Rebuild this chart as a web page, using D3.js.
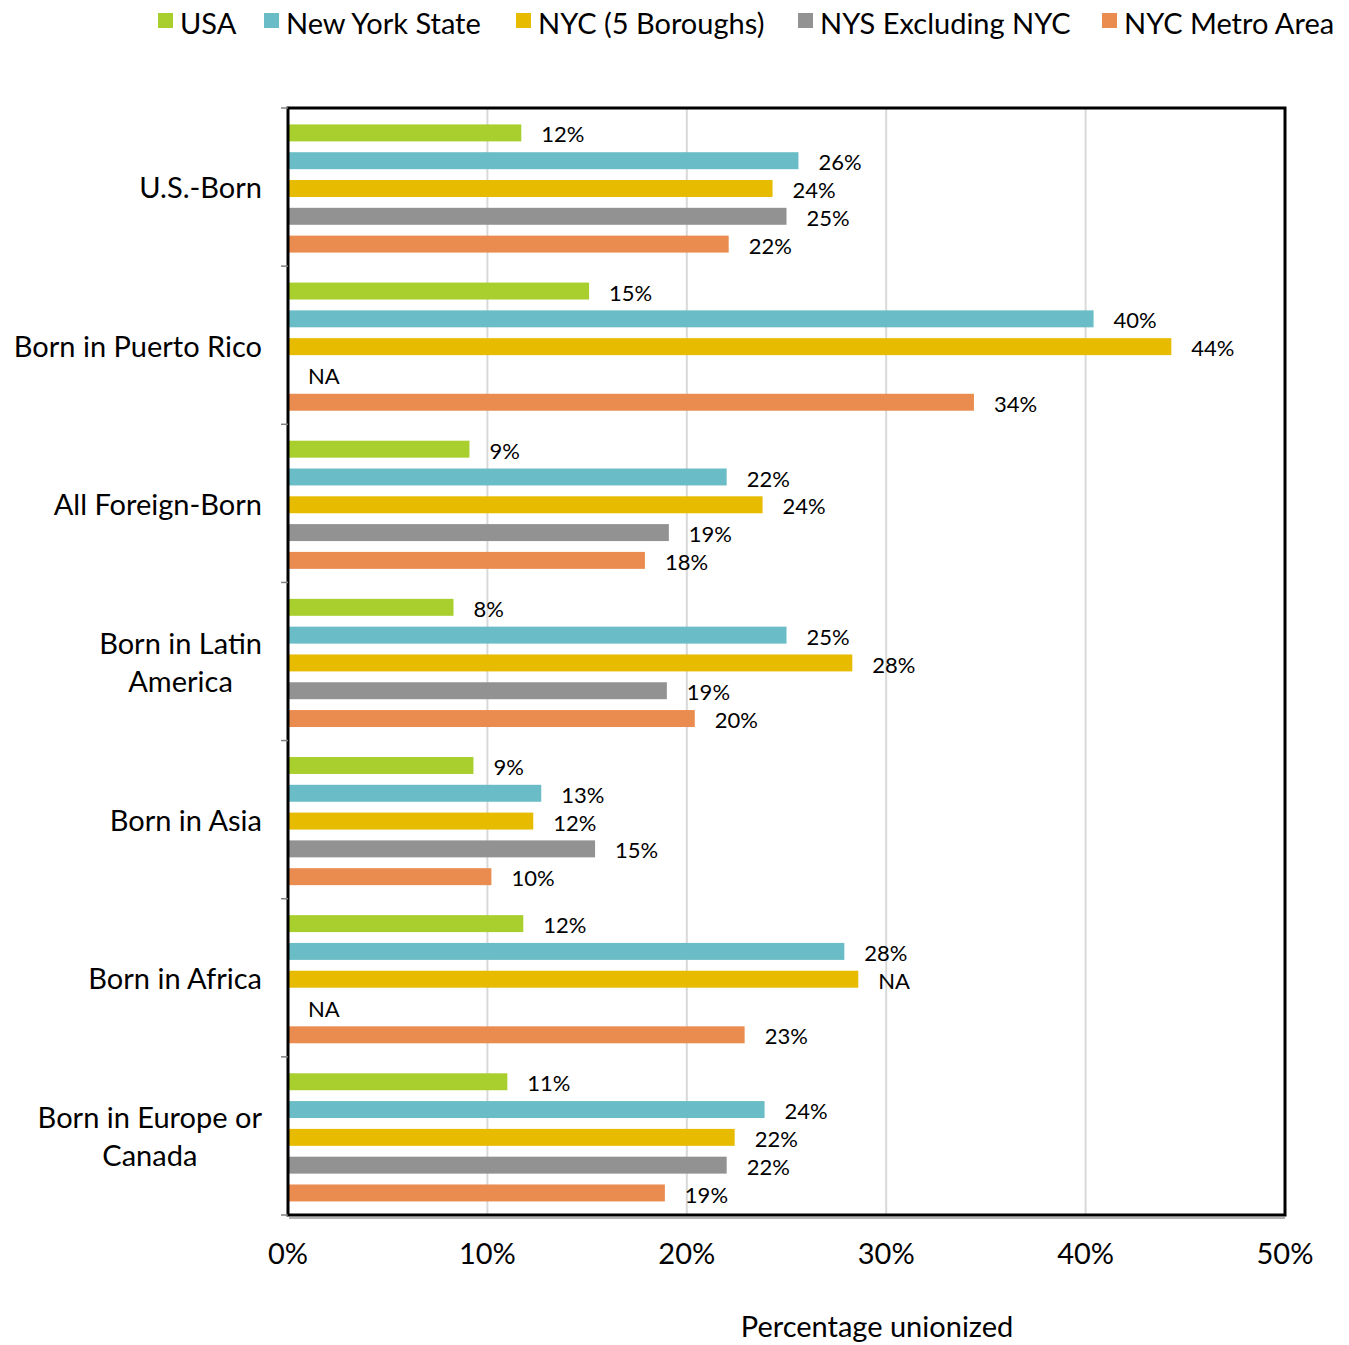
<!DOCTYPE html>
<html>
<head>
<meta charset="utf-8">
<script src="https://cdn.jsdelivr.net/npm/d3@7"></script>
<style>
  html, body { margin: 0; padding: 0; background: #fff; }
  svg { display: block; font-family: Lato, "Noto Sans", sans-serif; }
</style>
</head>
<body>
<svg id="chart" width="1349" height="1345"></svg>
<script>
// Union membership rates by place of birth
const categories = [
  ["U.S.-Born"],
  ["Born in Puerto Rico"],
  ["All Foreign-Born"],
  ["Born in Latin", "America"],
  ["Born in Asia"],
  ["Born in Africa"],
  ["Born in Europe or", "Canada"]
];
const seriesNames = ["USA", "New York State", "NYC (5 Boroughs)", "NYS Excluding NYC", "NYC Metro Area"];
const seriesColors = ["#a8cf2e", "#6abdc6", "#e6bb00", "#929292", "#ea8c4f"];

// percent unionized; null = not available
const usa       = [11.7, 15.1,  9.1,  8.3,  9.3, 11.8, 11.0];
const nys       = [25.6, 40.4, 22.0, 25.0, 12.7, 27.9, 23.9];
const nyc       = [24.3, 44.3, 23.8, 28.3, 12.3, 28.6, 22.4];
const nysExNyc  = [25.0, null, 19.1, 19.0, 15.4, null, 22.0];
const metro     = [22.1, 34.4, 17.9, 20.4, 10.2, 22.9, 18.9];
// cells whose estimate is reported as NA even though a bar is drawn
const naOverride = [[2, 5]]; // [series index, category index]

const xTicks = [0, 10, 20, 30, 40, 50];
const xTitle = "Percentage unionized";

const seriesValues = [usa, nys, nyc, nysExNyc, metro];

const svg = d3.select("#chart");
const plot = { left: 288, right: 1285, top: 108, bottom: 1215 };
const bigFont = 29;

const x = d3.scaleLinear().domain([0, 50]).range([plot.left, plot.right]);
const yCat = d3.scaleBand().domain(d3.range(categories.length))
  .range([plot.top, plot.bottom]).padding(0);
const ySer = d3.scaleBand().domain(d3.range(seriesNames.length))
  .range([11, 150]).paddingInner(0.39).paddingOuter(0.195);

// gridlines
svg.append("g").selectAll("line").data(xTicks.filter(t => t > 0 && t < 50)).join("line")
  .attr("x1", d => x(d)).attr("x2", d => x(d))
  .attr("y1", plot.top).attr("y2", plot.bottom)
  .attr("stroke", "#d9d9d9").attr("stroke-width", 2);

// bars
const cells = [];
seriesValues.forEach((vals, s) => vals.forEach((v, c) => cells.push({ s, c, v })));
const isNA = d => d.v == null || naOverride.some(([s, c]) => s === d.s && c === d.c);

svg.append("g").selectAll("rect").data(cells.filter(d => d.v != null)).join("rect")
  .attr("x", x(0))
  .attr("y", d => yCat(d.c) + ySer(d.s))
  .attr("width", d => x(d.v) - x(0))
  .attr("height", ySer.bandwidth())
  .attr("fill", d => seriesColors[d.s]);

// value labels
const fmt = v => d3.format(".0f")(v) + "%";
svg.append("g").selectAll("text").data(cells).join("text")
  .attr("x", d => x(d.v == null ? 0 : d.v) + 20)
  .attr("y", d => yCat(d.c) + ySer(d.s) + ySer.bandwidth() / 2 + 4)
  .attr("dominant-baseline", "middle")
  .attr("font-size", 22)
  .attr("fill", "#000")
  .text(d => isNA(d) ? "NA" : fmt(d.v));

// frame
svg.append("rect")
  .attr("x", plot.left).attr("y", plot.top)
  .attr("width", plot.right - plot.left).attr("height", plot.bottom - plot.top)
  .attr("fill", "none").attr("stroke", "#000").attr("stroke-width", 3);
svg.append("line")
  .attr("x1", plot.left + 1).attr("x2", plot.right)
  .attr("y1", plot.bottom + 3).attr("y2", plot.bottom + 3)
  .attr("stroke", "#999").attr("stroke-width", 1.5);

// category tick marks on the left axis
svg.append("g").selectAll("line").data(d3.range(categories.length + 1)).join("line")
  .attr("x1", plot.left - 7).attr("x2", plot.left)
  .attr("y1", i => plot.top + i * yCat.step()).attr("y2", i => plot.top + i * yCat.step())
  .attr("stroke", "#808080").attr("stroke-width", 1.5);

// category labels: block right-aligned, lines centred within the block
const catG = svg.append("g");
categories.forEach((lines, i) => {
  const cy = yCat(i) + yCat.bandwidth() / 2 + 4;
  const t = catG.append("text")
    .attr("font-size", bigFont).attr("fill", "#000").attr("text-anchor", "middle");
  const lh = 38;
  lines.forEach((line, k) => {
    t.append("tspan").attr("x", 0)
      .attr("y", cy + (k - (lines.length - 1) / 2) * lh)
      .attr("dominant-baseline", "middle")
      .text(line);
  });
  let w = 0;
  t.selectAll("tspan").each(function () { w = Math.max(w, this.getComputedTextLength()); });
  const right = plot.left - 26;
  t.selectAll("tspan").attr("x", right - w / 2);
});

// x axis tick labels
svg.append("g").selectAll("text").data(xTicks).join("text")
  .attr("x", d => x(d)).attr("y", 1257)
  .attr("text-anchor", "middle").attr("dominant-baseline", "middle")
  .attr("font-size", bigFont).attr("fill", "#000")
  .text(d => d + "%");

// axis title
svg.append("text")
  .attr("x", 877).attr("y", 1330)
  .attr("text-anchor", "middle").attr("dominant-baseline", "middle")
  .attr("font-size", bigFont).attr("fill", "#000")
  .text(xTitle);

// legend
const legendX = [158, 264, 516, 798, 1102];
const leg = svg.append("g").selectAll("g").data(seriesNames).join("g")
  .attr("transform", (d, i) => `translate(${legendX[i]},0)`);
leg.append("rect").attr("x", 0).attr("y", 13).attr("width", 15).attr("height", 15)
  .attr("fill", (d, i) => seriesColors[i]);
leg.append("text").attr("x", 22).attr("y", 27)
  .attr("dominant-baseline", "middle")
  .attr("font-size", bigFont).attr("fill", "#000")
  .text(d => d);
</script>
</body>
</html>
